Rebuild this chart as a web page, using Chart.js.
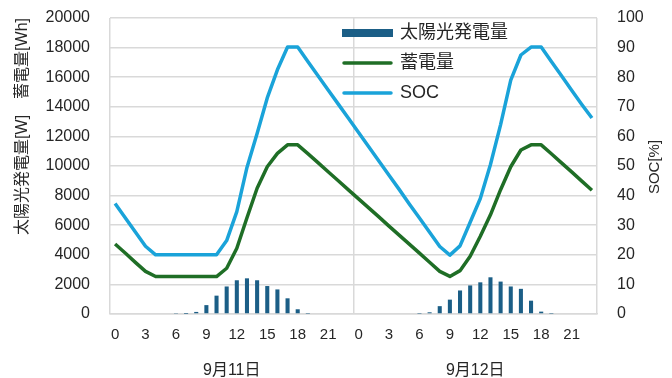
<!DOCTYPE html>
<html>
<head>
<meta charset="utf-8">
<script src="https://cdn.jsdelivr.net/npm/chart.js@4.4.0/dist/chart.umd.min.js"></script>
<style>
  html, body { margin: 0; padding: 0; background: #fff; }
</style>
</head>
<body>
<canvas id="chart" width="672" height="378"></canvas>
<script>
// hours of each day, two days side by side
const hoursOfDay = [0, 1, 2, 3, 4, 5, 6, 7, 8, 9, 10, 11, 12, 13, 14, 15, 16, 17, 18, 19, 20, 21, 22, 23];
const hours = hoursOfDay.concat(hoursOfDay);
const days = ["9月11日", "9月12日"];

// 太陽光発電量 [W]
const solar = [
    0, 0, 0, 0, 0, 0, 30, 5, 140, 600, 1240, 1860, 2280, 2410, 2280, 1890, 1660, 1060, 320, 20, 0, 0, 0, 0,
    0, 0, 0, 0, 0, 0, 20, 115, 530, 970, 1590, 1930, 2140, 2480, 2190, 1860, 1700, 900, 160, 20, 0, 0, 0, 0,
];
// 蓄電量 [Wh]
const battery = [
    4730, 4120, 3490, 2880, 2530, 2530, 2530, 2530, 2530, 2530, 2530, 3090, 4440, 6500, 8500, 9950, 10850, 11430, 11430, 10840, 10230, 9610, 9000, 8390,
    7780, 7170, 6560, 5940, 5330, 4720, 4110, 3500, 2880, 2540, 2930, 3900, 5250, 6700, 8400, 9950, 11080, 11430, 11430, 10830, 10210, 9600, 8980, 8360,
];
// SOC [%]
const soc = [
    37.3, 32.5, 27.7, 22.9, 20, 20, 20, 20, 20, 20, 20, 24.8, 34.6, 49.5, 61, 73, 82.5, 90.2, 90.2, 85.3, 80.5, 75.7, 70.9, 66.1,
    61.3, 56.5, 51.7, 46.9, 42.1, 37.2, 32.4, 27.6, 22.8, 19.9, 23, 31, 39, 50.5, 64, 79, 87.5, 90.2, 90.2, 85.3, 80.5, 75.6, 70.8, 66.2,
];

const seriesNames = ["太陽光発電量", "蓄電量", "SOC"];
const leftTitle = "太陽光発電量[W]　蓄電量[Wh]";
const rightTitle = "SOC[%]";

const FONT = "'Liberation Sans', 'Noto Sans CJK JP', sans-serif";
const GRID = "#d9d9d9";
const TEXT = "#262626";
const colors = { solar: "#1b5e86", battery: "#1f6e26", soc: "#1aa3d9" };

Chart.defaults.font.family = FONT;
Chart.defaults.color = TEXT;

// legend drawn inside the plot, top middle
const fixedLegend = {
    id: "fixedLegend",
    afterDraw(chart) {
        const ctx = chart.ctx;
        const kinds = ["bar", "line", "line"];
        const fills = [colors.solar, colors.battery, colors.soc];
        ctx.save();
        ctx.font = "18px " + FONT;
        ctx.textBaseline = "middle";
        seriesNames.forEach((name, i) => {
            const y = 33 + i * 30;
            if (kinds[i] === "bar") {
                ctx.fillStyle = fills[i];
                ctx.fillRect(342, y - 4, 51, 8);
            } else {
                ctx.strokeStyle = fills[i];
                ctx.lineWidth = 3.5;
                ctx.lineCap = "round";
                ctx.beginPath();
                ctx.moveTo(344, y);
                ctx.lineTo(391, y);
                ctx.stroke();
            }
            ctx.fillStyle = TEXT;
            ctx.fillText(name, 400, y);
        });
        // right axis title reads bottom to top
        ctx.font = "15px " + FONT;
        ctx.textAlign = "center";
        ctx.translate(655, 167);
        ctx.rotate(-Math.PI / 2);
        ctx.fillText(rightTitle, 0, 0);
        ctx.restore();
    },
};

new Chart(document.getElementById("chart"), {
    type: "bar",
    data: {
        labels: hours,
        datasets: [
            {
                label: seriesNames[2],
                type: "line",
                data: soc,
                yAxisID: "y1",
                borderColor: colors.soc,
                borderWidth: 3.5,
                pointRadius: 0,
                tension: 0,
                borderJoinStyle: "round",
                order: 1,
            },
            {
                label: seriesNames[1],
                type: "line",
                data: battery,
                yAxisID: "y",
                borderColor: colors.battery,
                borderWidth: 3.5,
                pointRadius: 0,
                tension: 0,
                borderJoinStyle: "round",
                order: 2,
            },
            {
                label: seriesNames[0],
                data: solar,
                yAxisID: "y",
                backgroundColor: colors.solar,
                barPercentage: 0.4,
                categoryPercentage: 1,
                order: 3,
            },
        ],
    },
    options: {
        responsive: false,
        animation: false,
        layout: { padding: { top: 18, left: 0, right: 0, bottom: 0 } },
        plugins: {
            legend: { display: false },
            tooltip: { enabled: false },
        },
        scales: {
            x: {
                offset: true,
                grid: { display: false, drawTicks: false },
                border: { color: GRID, width: 1.5 },
                ticks: {
                    autoSkip: false,
                    maxRotation: 0,
                    padding: 12,
                    font: { size: 15 },
                    callback: (v, i) => (hours[i] % 3 === 0 ? String(hours[i]) : ""),
                },
                afterFit: (s) => { s.height = 30; },
            },
            x2: {
                type: "category",
                labels: days,
                position: "bottom",
                offset: true,
                grid: { offset: true, drawTicks: false, color: GRID, lineWidth: 1.5 },
                border: { display: false },
                ticks: { padding: 17, font: { size: 16 }, maxRotation: 0 },
                afterFit: (s) => { s.height = 34; },
            },
            y: {
                position: "left",
                min: 0,
                max: 20000,
                grid: { color: GRID, lineWidth: 1.5, drawTicks: true, tickLength: 18, tickColor: "rgba(0,0,0,0)" },
                border: { display: false },
                ticks: {
                    stepSize: 2000,
                    padding: 2,
                    font: { size: 16 },
                    callback: (v) => String(v),
                },
                title: {
                    display: true,
                    text: leftTitle,
                    align: "end",
                    font: { size: 16 },
                    padding: { top: 13, bottom: 0 },
                },
                afterFit: (s) => { s.width = 110; },
            },
            y1: {
                position: "right",
                min: 0,
                max: 100,
                grid: { drawOnChartArea: false, drawTicks: true, tickLength: 18, tickColor: "rgba(0,0,0,0)" },
                border: { display: false },
                ticks: { stepSize: 10, padding: 2, font: { size: 16 } },
                afterFit: (s) => { s.width = 75; },
            },
        },
    },
    plugins: [fixedLegend],
});
</script>
</body>
</html>
